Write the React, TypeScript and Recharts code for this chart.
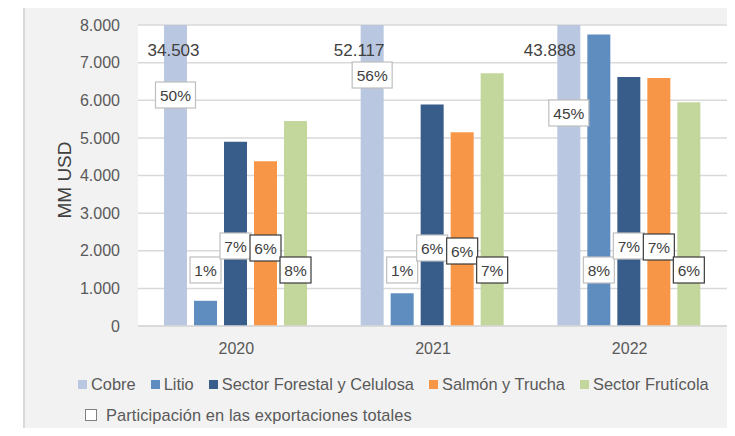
import React from 'react';
import { BarChart, Bar, XAxis, YAxis, CartesianGrid, Legend, LabelList } from 'recharts';

// ---- data ----
const years = ['2020', '2021', '2022'];
const cobre = [34503, 52117, 43888];
const litio = [670, 870, 7750];
const forestal = [4900, 5890, 6620];
const salmon = [4380, 5150, 6590];
const fruticola = [5450, 6720, 5945];

const cobrePct = [50, 56, 45];
const litioPct = [1, 1, 8];
const forestalPct = [7, 6, 7];
const salmonPct = [6, 6, 7];
const fruticolaPct = [8, 7, 6];

const yTicks = [0, 1000, 2000, 3000, 4000, 5000, 6000, 7000, 8000];

const seriesNames = ['Cobre', 'Litio', 'Sector Forestal y Celulosa', 'Salmón y Trucha', 'Sector Frutícola'];
const legendNote = 'Participación en las exportaciones totales';

const data = years.map((y, i) => ({
  year: y,
  cobre: cobre[i],
  litio: litio[i],
  forestal: forestal[i],
  salmon: salmon[i],
  fruticola: fruticola[i],
  cobrePct: cobrePct[i],
  litioPct: litioPct[i],
  forestalPct: forestalPct[i],
  salmonPct: salmonPct[i],
  fruticolaPct: fruticolaPct[i],
}));

// ---- styles / layout ----
const FONT = '"Liberation Sans", Arial, sans-serif';
const TEXT = '#595959';
const COLORS = ['#B9C7E1', '#5F8DC0', '#385D8A', '#F79646', '#C3D69B'];
const BOX_STROKE = ['#bfbfbf', '#bfbfbf', '#bfbfbf', '#3a3a3a', '#3a3a3a'];
// label box centre distance above the baseline, per year
const BOX_RISE: Record<string, number[]> = {
  cobre: [231, 251, 213],
  litio: [56, 56, 56],
  forestal: [80, 78, 80],
  salmon: [78, 75, 79],
  fruticola: [56, 56, 56],
};
const COBRE_VALUE_RISE = 276;
const COBRE_VALUE_DX = [-2, -13, -19];

const fmt = (v: number) => String(v).replace(/\B(?=(\d{3})+(?!\d))/g, '.');

const makeBox = (key: string, stroke: string) => (props: any) => {
  const { x, y, width, height, value, index } = props;
  const cx = Number(x) + Number(width) / 2;
  const base = Number(y) + Number(height);
  const cy = base - BOX_RISE[key][index];
  const txt = `${value}%`;
  const w = 9 * txt.length + 13;
  const h = 26;
  return (
    <g>
      <rect x={cx - w / 2} y={cy - h / 2} width={w} height={h} fill="#fff" stroke={stroke} strokeWidth={1.2} />
      <text x={cx} y={cy} textAnchor="middle" dominantBaseline="central" fontSize={15.5} fill="#404040" fontFamily={FONT}>
        {txt}
      </text>
    </g>
  );
};

const CobreValue = (props: any) => {
  const { x, y, width, height, value, index } = props;
  const cx = Number(x) + Number(width) / 2 + COBRE_VALUE_DX[index];
  const base = Number(y) + Number(height);
  return (
    <text x={cx} y={base - COBRE_VALUE_RISE} textAnchor="middle" dominantBaseline="central" fontSize={17} fill="#404040" fontFamily={FONT}>
      {fmt(value)}
    </text>
  );
};

const LegendContent = () => (
  <div style={{ height: 56, fontFamily: FONT, fontSize: 16.4, color: TEXT, position: 'relative' }}>
    <div style={{ position: 'absolute', left: 78, top: 0, display: 'flex', alignItems: 'center', whiteSpace: 'nowrap', height: 20 }}>
      {seriesNames.map((n, i) => (
        <div key={n} style={{ display: 'flex', alignItems: 'center', marginRight: i < seriesNames.length - 1 ? 15 : 0 }}>
          <span style={{ width: 9, height: 9, background: COLORS[i], display: 'inline-block', marginRight: 4 }} />
          <span>{n}</span>
        </div>
      ))}
    </div>
    <div style={{ position: 'absolute', left: 85, top: 31, display: 'flex', alignItems: 'center', whiteSpace: 'nowrap', height: 20 }}>
      <span style={{ width: 10, height: 10, border: '1px solid #7f7f7f', background: '#fff', display: 'inline-block', marginRight: 9 }} />
      <span style={{ letterSpacing: 0.1 }}>{legendNote}</span>
    </div>
  </div>
);

const YLabel = (props: any) => {
  const vb = props.viewBox || {};
  const cx = Number(vb.x || 0) + 64;
  const cy = Number(vb.y || 0) + Number(vb.height || 0) / 2 + 4.5;
  return (
    <text x={cx} y={cy} transform={`rotate(-90 ${cx} ${cy})`} textAnchor="middle" dominantBaseline="central" fontSize={19} fill="#404040" fontFamily={FONT}>
      MM USD
    </text>
  );
};

const keys = ['cobre', 'litio', 'forestal', 'salmon', 'fruticola'];

export default function App() {
  return (
    <div style={{ position: 'relative', margin: -8, width: 735, height: 436, background: '#fff', overflow: 'hidden' }}>
      <div style={{ position: 'absolute', left: 23, top: 3, right: 0, bottom: 0, background: '#f2f2f2', borderLeft: '2px solid #d9d9d9', borderTop: '2px solid #d9d9d9' }} />
      <div style={{ position: 'absolute', left: 0, top: 0 }}>
        <BarChart
          width={735}
          height={436}
          data={data}
          margin={{ top: 25, right: 7, bottom: 24, left: 0 }}
          barCategoryGap={26}
          barGap={7}
        >
          <CartesianGrid vertical={false} stroke="#d9d9d9" strokeWidth={1.5} fill="#ffffff" fillOpacity={1} />
          <XAxis
            dataKey="year"
            axisLine={{ stroke: '#d9d9d9', strokeWidth: 1.5 }}
            tickLine={false}
            tickSize={0}
            tickMargin={17}
            tick={{ fontSize: 16, fill: TEXT, fontFamily: FONT }}
          />
          <YAxis
            width={138}
            domain={[0, 8000]}
            ticks={yTicks}
            allowDataOverflow
            axisLine={false}
            tickLine={false}
            tickSize={0}
            tickMargin={18}
            tickFormatter={(v: number) => fmt(v)}
            tick={{ fontSize: 16, fill: TEXT, fontFamily: FONT }}
            label={<YLabel />}
          />
          <Legend
            content={<LegendContent />}
            verticalAlign="bottom"
            wrapperStyle={{ position: 'absolute', top: 374, left: 0, width: 735, height: 56 }}
          />
          {keys.map((k, i) => (
            <Bar key={k} dataKey={k} name={seriesNames[i]} fill={COLORS[i]} isAnimationActive={false}>
              {k === 'cobre' && <LabelList dataKey="cobre" content={<CobreValue />} />}
              <LabelList dataKey={`${k}Pct`} content={makeBox(k, BOX_STROKE[i])} />
            </Bar>
          ))}
        </BarChart>
      </div>
    </div>
  );
}
